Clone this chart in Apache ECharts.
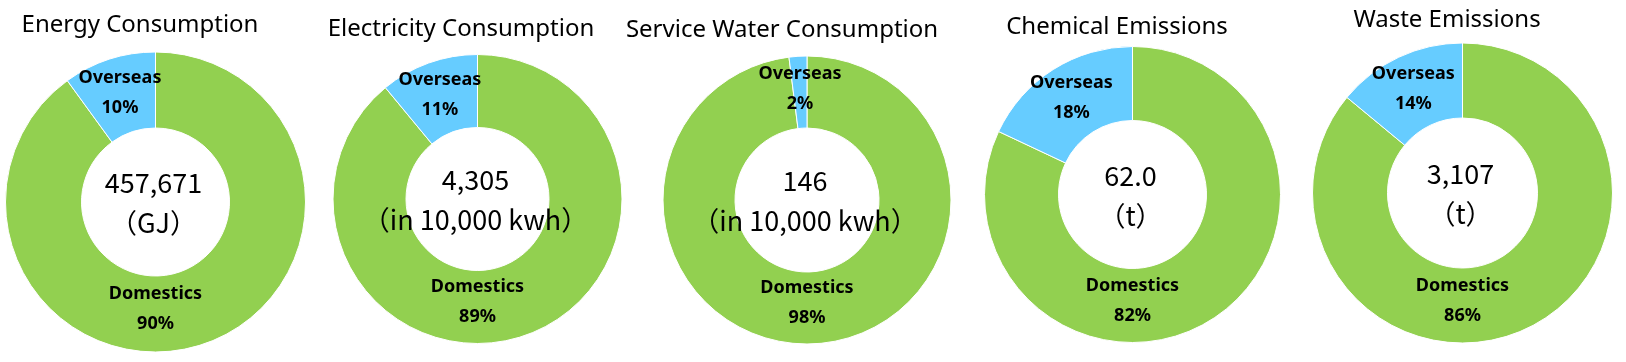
<!DOCTYPE html>
<html>
<head>
<meta charset="utf-8">
<script src="https://cdn.jsdelivr.net/npm/echarts@6/dist/echarts.min.js"></script>
<style>
html,body{margin:0;padding:0;background:#fff;}
#chart{width:1626px;height:362px;}
</style>
</head>
<body>
<div id="chart"></div>
<script>
// ---- data ----
const categories = ['Domestics', 'Overseas'];
const titles = ['Energy Consumption', 'Electricity Consumption', 'Service Water Consumption', 'Chemical Emissions', 'Waste Emissions'];
const totals = ['457,671', '4,305', '146', '62.0', '3,107'];
const units = ['（GJ）', '（in 10,000 kwh）', '（in 10,000 kwh）', '（t）', '（t）'];
const domestics = [90, 89, 98, 82, 86];
const overseas = [10, 11, 2, 18, 14];

// ---- layout ----
const centers = [[155.5, 202], [477.5, 199], [807, 200], [1132.5, 194.5], [1462.5, 193]];
const radii = [[74, 150], [71.5, 144.5], [72, 144], [74, 148], [75, 150]];
const titlePos = [[140, 25], [461, 29], [782, 30], [1117, 27], [1447, 20]];
const colors = ['#92D050', '#66CCFF'];

const chart = echarts.init(document.getElementById('chart'), null, {renderer: 'canvas'});

const series = centers.map((c, i) => ({
  type: 'pie',
  center: c,
  radius: radii[i],
  startAngle: 90,
  clockwise: true,
  silent: true,
  avoidLabelOverlap: false,
  itemStyle: {borderColor: '#ffffff', borderWidth: 1},
  label: {
    show: true,
    position: 'inside',
    formatter: p => p.name + '\n' + Math.round(p.percent) + '%',
    fontFamily: 'Noto Sans',
    fontWeight: 'bold',
    fontSize: 18,
    lineHeight: 30,
    color: '#000'
  },
  labelLine: {show: false},
  labelLayout: function (p) {
    if (p.dataIndex === 0) {
      const ctr = centers[p.seriesIndex];
      const r = radii[p.seriesIndex];
      return {x: ctr[0], y: ctr[1] + (r[0] + r[1]) / 2 - 5, align: 'center', verticalAlign: 'middle'};
    }
    return {};
  },
  data: [
    {name: categories[0], value: domestics[i], itemStyle: {color: colors[0]}},
    {name: categories[1], value: overseas[i], itemStyle: {color: colors[1]}}
  ]
}));

const graphics = centers.map((c, i) => ({
  type: 'text',
  x: c[0] - 2,
  y: c[1] + 1,
  z: 100,
  silent: true,
  style: {
    text: totals[i] + '\n' + units[i],
    fontFamily: 'Noto Sans CJK JP',
    fontSize: 27,
    lineHeight: 40,
    fill: '#000',
    align: 'center',
    verticalAlign: 'middle'
  }
}));

titles.forEach((t, i) => {
  graphics.push({
    type: 'text',
    x: titlePos[i][0],
    y: titlePos[i][1],
    z: 100,
    silent: true,
    style: {
      text: t,
      fontFamily: 'Noto Sans',
      fontSize: 24,
      fill: '#000',
      align: 'center',
      verticalAlign: 'middle'
    }
  });
});

chart.setOption({
  animation: false,
  backgroundColor: '#ffffff',
  series: series,
  graphic: graphics
});
</script>
</body>
</html>
